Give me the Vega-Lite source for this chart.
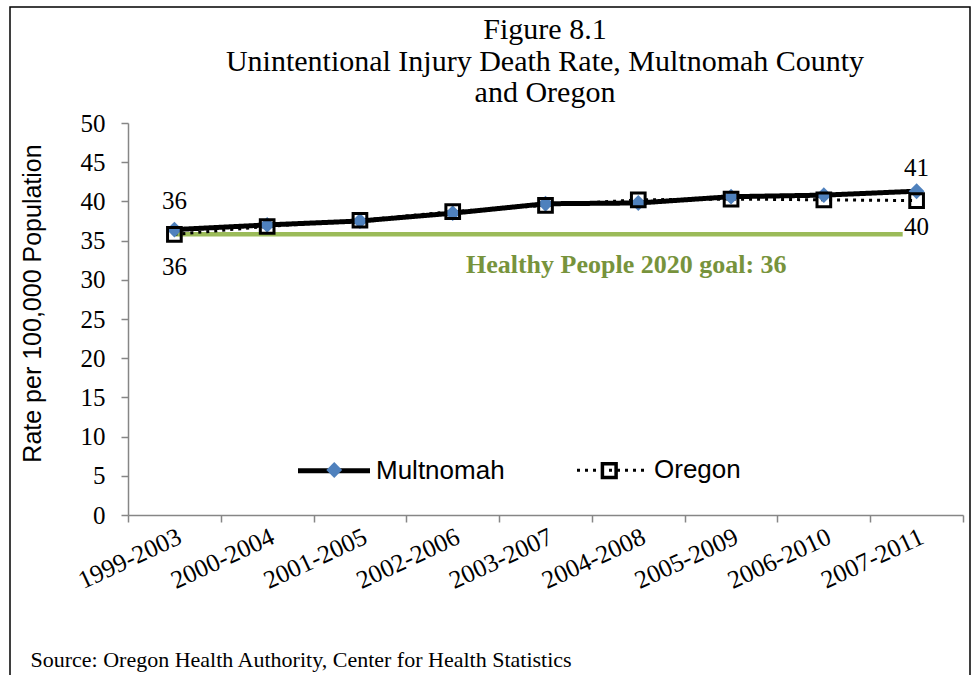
{
  "$schema": "https://vega.github.io/schema/vega-lite/v6.json",
  "width": 960,
  "height": 670,
  "autosize": "none",
  "padding": {"left": 10, "top": 7, "right": 7, "bottom": 0},
  "background": "white",
  "config": {
    "view": {"stroke": "black", "strokeWidth": 1.5},
    "axis": {"grid": false}
  },
  "title": {
    "text": ["Figure 8.1", "Unintentional Injury Death Rate, Multnomah County", "and Oregon"],
    "font": "Liberation Serif",
    "fontSize": 30,
    "fontWeight": "normal",
    "color": "black",
    "anchor": "middle",
    "frame": "group",
    "dx": 55,
    "offset": -101,
    "lineHeight": 31.5
  },
  "data": {
    "values": [
      {"period": "1999-2003", "series": "Multnomah", "rate": 36.4},
      {"period": "2000-2004", "series": "Multnomah", "rate": 37.0},
      {"period": "2001-2005", "series": "Multnomah", "rate": 37.5},
      {"period": "2002-2006", "series": "Multnomah", "rate": 38.5},
      {"period": "2003-2007", "series": "Multnomah", "rate": 39.7},
      {"period": "2004-2008", "series": "Multnomah", "rate": 39.8},
      {"period": "2005-2009", "series": "Multnomah", "rate": 40.6},
      {"period": "2006-2010", "series": "Multnomah", "rate": 40.8},
      {"period": "2007-2011", "series": "Multnomah", "rate": 41.3},
      {"period": "1999-2003", "series": "Oregon", "rate": 35.8},
      {"period": "2000-2004", "series": "Oregon", "rate": 36.8},
      {"period": "2001-2005", "series": "Oregon", "rate": 37.6},
      {"period": "2002-2006", "series": "Oregon", "rate": 38.7},
      {"period": "2003-2007", "series": "Oregon", "rate": 39.5},
      {"period": "2004-2008", "series": "Oregon", "rate": 40.2},
      {"period": "2005-2009", "series": "Oregon", "rate": 40.3},
      {"period": "2006-2010", "series": "Oregon", "rate": 40.2},
      {"period": "2007-2011", "series": "Oregon", "rate": 40.1}
    ]
  },
  "layer": [
    {
      "data": {"values": [{"start": "1999-2003", "end": "2007-2011", "goal": 35.8, "label": "Healthy People 2020 goal: 36"}]},
      "layer": [
        {
          "mark": {"type": "rule", "color": "#9BBB59", "strokeWidth": 4.5},
          "encoding": {
            "x": {"field": "start", "type": "nominal", "bandPosition": 0.5,
              "scale": {"type": "band", "domain": ["1999-2003","2000-2004","2001-2005","2002-2006","2003-2007","2004-2008","2005-2009","2006-2010","2007-2011"], "range": [118, 953], "paddingInner": 0, "paddingOuter": 0},
              "axis": {
                "title": "Source: Oregon Health Authority, Center for Health Statistics",
                "titleFont": "Liberation Serif", "titleFontSize": 22, "titleFontWeight": "normal", "titleColor": "black",
                "titleAlign": "left", "titleAnchor": "start", "titleBaseline": "alphabetic", "titleAngle": 0,
                "titleX": 20, "titleY": 151,
                "offset": -162,
                "labelAngle": -25, "labelAlign": "right", "labelBaseline": "top",
                "labelFont": "Liberation Serif", "labelFontSize": 25.5, "labelColor": "black", "labelPadding": 2,
                "labelOverlap": false, "labelBound": false, "labelFlush": false,
                "tickBand": "extent", "tickSize": 7, "tickColor": "#868686", "tickWidth": 1.5,
                "domainColor": "#868686", "domainWidth": 1.5
              }
            },
            "x2": {"field": "end", "bandPosition": 0.35},
            "y": {"field": "goal", "type": "quantitative",
              "scale": {"domain": [0, 50], "range": [508, 116], "nice": false, "zero": true},
              "axis": {
                "title": "Rate per 100,000 Population",
                "titleFont": "Liberation Sans", "titleFontSize": 25, "titleFontWeight": "normal", "titleColor": "black",
                "titleAngle": -90, "titleAlign": "center", "titleBaseline": "middle", "titleX": -96, "titleY": 296,
                "offset": -118,
                "values": [0, 5, 10, 15, 20, 25, 30, 35, 40, 45, 50],
                "labelFont": "Liberation Serif", "labelFontSize": 25, "labelColor": "black", "labelPadding": 16,
                "tickSize": 7, "tickColor": "#868686", "tickWidth": 1.5,
                "domainColor": "#868686", "domainWidth": 1.5
              }
            }
          }
        },
        {
          "mark": {"type": "text", "font": "Liberation Serif", "fontSize": 26, "fontWeight": "bold", "color": "#77933C", "align": "center", "baseline": "alphabetic", "dx": -12, "dy": 39},
          "encoding": {
            "x": {"datum": "2004-2008", "type": "nominal"},
            "y": {"field": "goal", "type": "quantitative"},
            "text": {"field": "label", "type": "nominal"}
          }
        }
      ]
    },
    {
      "transform": [{"filter": "datum.series === 'Oregon'"}],
      "mark": {"type": "line", "color": "black", "strokeCap": "butt"},
      "encoding": {
        "x": {"field": "period", "type": "nominal"},
        "y": {"field": "rate", "type": "quantitative"},
        "strokeDash": {
          "field": "series", "type": "nominal",
          "scale": {"domain": ["Multnomah", "Oregon"], "range": [[1, 0], [3, 5]]},
          "legend": {
            "title": null, "orient": "none", "legendX": 285.5, "legendY": 425, "direction": "horizontal",
            "padding": 0, "symbolType": "M-1,0H1", "symbolSize": 5184,
            "symbolStrokeColor": "black", "symbolFillColor": "transparent", "symbolOpacity": 1,
            "labelFont": "Liberation Sans", "labelFontSize": 26, "labelColor": "black", "labelOffset": 3.5,
            "columnPadding": 65
          }
        },
        "strokeWidth": {
          "field": "series", "type": "nominal",
          "scale": {"domain": ["Multnomah", "Oregon"], "range": [5, 3]},
          "legend": {
            "title": null, "orient": "none", "legendX": 285.5, "legendY": 425, "direction": "horizontal",
            "padding": 0, "symbolType": "M-1,0H1", "symbolSize": 5184,
            "symbolStrokeColor": "black", "symbolFillColor": "transparent", "symbolOpacity": 1,
            "labelFont": "Liberation Sans", "labelFontSize": 26, "labelColor": "black", "labelOffset": 3.5,
            "columnPadding": 65
          }
        }
      }
    },
    {
      "transform": [{"filter": "datum.series === 'Multnomah'"}],
      "mark": {"type": "line", "color": "black", "strokeCap": "butt", "strokeJoin": "round"},
      "encoding": {
        "x": {"field": "period", "type": "nominal"},
        "y": {"field": "rate", "type": "quantitative"},
        "strokeDash": {
          "field": "series", "type": "nominal",
          "scale": {"domain": ["Multnomah", "Oregon"], "range": [[1, 0], [3, 5]]},
          "legend": {
            "title": null, "orient": "none", "legendX": 285.5, "legendY": 425, "direction": "horizontal",
            "padding": 0, "symbolType": "M-1,0H1", "symbolSize": 5184,
            "symbolStrokeColor": "black", "symbolFillColor": "transparent", "symbolOpacity": 1,
            "labelFont": "Liberation Sans", "labelFontSize": 26, "labelColor": "black", "labelOffset": 3.5,
            "columnPadding": 65
          }
        },
        "strokeWidth": {
          "field": "series", "type": "nominal",
          "scale": {"domain": ["Multnomah", "Oregon"], "range": [5, 3]},
          "legend": {
            "title": null, "orient": "none", "legendX": 285.5, "legendY": 425, "direction": "horizontal",
            "padding": 0, "symbolType": "M-1,0H1", "symbolSize": 5184,
            "symbolStrokeColor": "black", "symbolFillColor": "transparent", "symbolOpacity": 1,
            "labelFont": "Liberation Sans", "labelFontSize": 26, "labelColor": "black", "labelOffset": 3.5,
            "columnPadding": 65
          }
        }
      }
    },
    {
      "mark": {"type": "point", "opacity": 1, "size": 5184},
      "encoding": {
        "x": {"field": "period", "type": "nominal"},
        "y": {"field": "rate", "type": "quantitative"},
        "shape": {
          "field": "series", "type": "nominal",
          "scale": {"range": ["M0,-0.22L0.22,0L0,0.22L-0.22,0Z", "M-0.19,-0.19H0.19V0.19H-0.19Z"]},
          "legend": {
            "title": null, "orient": "none", "legendX": 286.25, "legendY": 425, "direction": "horizontal",
            "padding": 0, "symbolSize": 5184, "symbolStrokeWidth": 3.5, "symbolOpacity": 1,
            "labelExpr": "''", "labelFont": "Liberation Sans", "labelFontSize": 26, "labelOffset": 3.5,
            "columnPadding": 195
          }
        },
        "fill": {
          "field": "series", "type": "nominal",
          "scale": {"range": ["#4F81BD", "transparent"]},
          "legend": {
            "title": null, "orient": "none", "legendX": 286.25, "legendY": 425, "direction": "horizontal",
            "padding": 0, "symbolSize": 5184, "symbolStrokeWidth": 3.5, "symbolOpacity": 1,
            "labelExpr": "''", "labelFont": "Liberation Sans", "labelFontSize": 26, "labelOffset": 3.5,
            "columnPadding": 195
          }
        },
        "stroke": {
          "field": "series", "type": "nominal",
          "scale": {"range": ["transparent", "black"]},
          "legend": {
            "title": null, "orient": "none", "legendX": 286.25, "legendY": 425, "direction": "horizontal",
            "padding": 0, "symbolSize": 5184, "symbolStrokeWidth": 3.5, "symbolOpacity": 1,
            "labelExpr": "''", "labelFont": "Liberation Sans", "labelFontSize": 26, "labelOffset": 3.5,
            "columnPadding": 195
          }
        },
        "strokeWidth": {"field": "series", "type": "nominal", "legend": null}
      }
    },
    {
      "transform": [{"filter": "datum.series === 'Multnomah' && datum.period === '1999-2003'"}],
      "mark": {"type": "text", "font": "Liberation Serif", "fontSize": 25, "color": "black", "baseline": "alphabetic", "align": "center", "dy": -21},
      "encoding": {
        "x": {"field": "period", "type": "nominal"},
        "y": {"field": "rate", "type": "quantitative"},
        "text": {"field": "rate", "type": "quantitative", "format": ".0f"}
      }
    },
    {
      "transform": [{"filter": "datum.series === 'Multnomah' && datum.period === '2007-2011'"}],
      "mark": {"type": "text", "font": "Liberation Serif", "fontSize": 25, "color": "black", "baseline": "alphabetic", "align": "center", "dy": -15},
      "encoding": {
        "x": {"field": "period", "type": "nominal"},
        "y": {"field": "rate", "type": "quantitative"},
        "text": {"field": "rate", "type": "quantitative", "format": ".0f"}
      }
    },
    {
      "transform": [{"filter": "datum.series === 'Oregon' && datum.period === '1999-2003'"}],
      "mark": {"type": "text", "font": "Liberation Serif", "fontSize": 25, "color": "black", "baseline": "alphabetic", "align": "center", "dy": 41},
      "encoding": {
        "x": {"field": "period", "type": "nominal"},
        "y": {"field": "rate", "type": "quantitative"},
        "text": {"field": "rate", "type": "quantitative", "format": ".0f"}
      }
    },
    {
      "transform": [{"filter": "datum.series === 'Oregon' && datum.period === '2007-2011'"}],
      "mark": {"type": "text", "font": "Liberation Serif", "fontSize": 25, "color": "black", "baseline": "alphabetic", "align": "center", "dy": 34},
      "encoding": {
        "x": {"field": "period", "type": "nominal"},
        "y": {"field": "rate", "type": "quantitative"},
        "text": {"field": "rate", "type": "quantitative", "format": ".0f"}
      }
    }
  ]
}
